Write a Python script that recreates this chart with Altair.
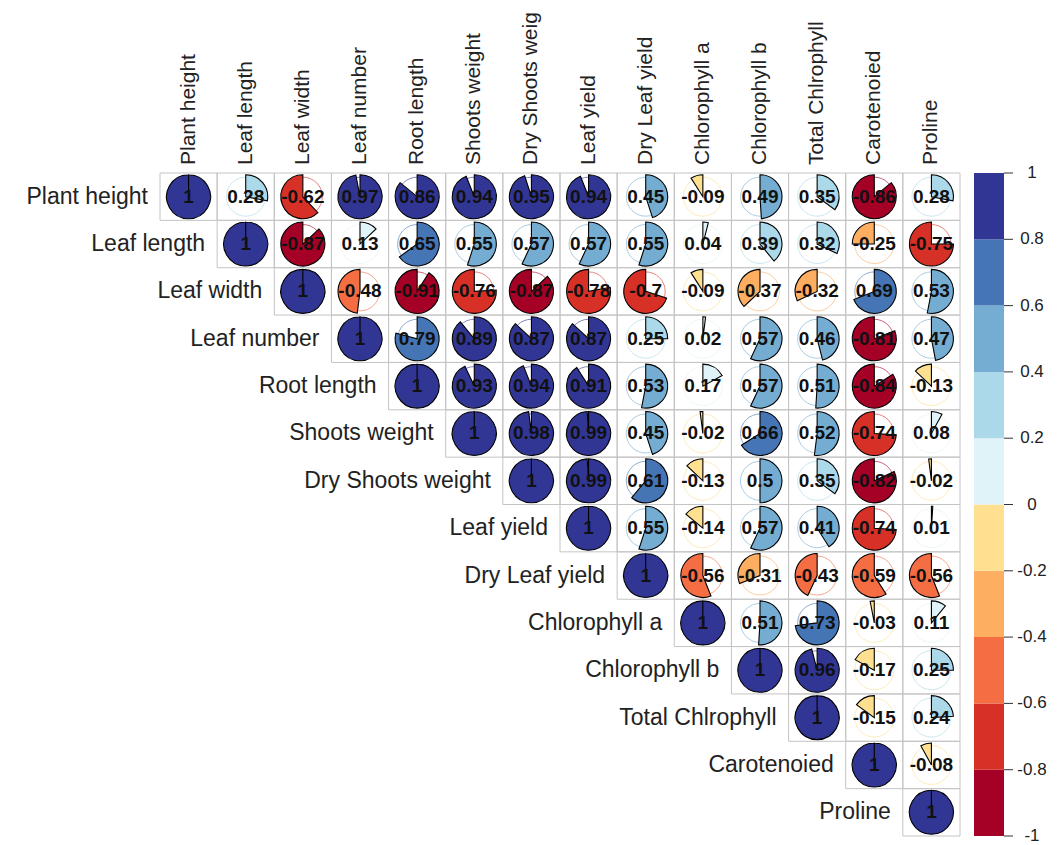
import altair as alt
import pandas as pd

names = ["Plant height", "Leaf length", "Leaf width", "Leaf number", "Root length",
         "Shoots weight", "Dry Shoots weight", "Leaf yield", "Dry Leaf yield",
         "Chlorophyll a", "Chlorophyll b", "Total Chlrophyll", "Carotenoied", "Proline"]
col_labels = ["Plant height", "Leaf length", "Leaf width", "Leaf number", "Root length",
              "Shoots weight", "Dry Shoots weig", "Leaf yield", "Dry Leaf yield",
              "Chlorophyll a", "Chlorophyll b", "Total Chlrophyll", "Carotenoied", "Proline"]

# upper triangle of the correlation matrix, row by row (starting at the diagonal)
row_plant_height = [1, 0.28, -0.62, 0.97, 0.86, 0.94, 0.95, 0.94, 0.45, -0.09, 0.49, 0.35, -0.86, 0.28]
row_leaf_length = [1, -0.87, 0.13, 0.65, 0.55, 0.57, 0.57, 0.55, 0.04, 0.39, 0.32, -0.25, -0.75]
row_leaf_width = [1, -0.48, -0.91, -0.76, -0.87, -0.78, -0.7, -0.09, -0.37, -0.32, 0.69, 0.53]
row_leaf_number = [1, 0.79, 0.89, 0.87, 0.87, 0.25, 0.02, 0.57, 0.46, -0.81, 0.47]
row_root_length = [1, 0.93, 0.94, 0.91, 0.53, 0.17, 0.57, 0.51, -0.84, -0.13]
row_shoots_weight = [1, 0.98, 0.99, 0.45, -0.02, 0.66, 0.52, -0.74, 0.08]
row_dry_shoots = [1, 0.99, 0.61, -0.13, 0.5, 0.35, -0.82, -0.02]
row_leaf_yield = [1, 0.55, -0.14, 0.57, 0.41, -0.74, 0.01]
row_dry_leaf_yield = [1, -0.56, -0.31, -0.43, -0.59, -0.56]
row_chl_a = [1, 0.51, 0.73, -0.03, 0.11]
row_chl_b = [1, 0.96, -0.17, 0.25]
row_total_chl = [1, -0.15, 0.24]
row_carotenoid = [1, -0.08]
row_proline = [1]

upper = [row_plant_height, row_leaf_length, row_leaf_width, row_leaf_number, row_root_length,
         row_shoots_weight, row_dry_shoots, row_leaf_yield, row_dry_leaf_yield, row_chl_a,
         row_chl_b, row_total_chl, row_carotenoid, row_proline]

palette = ["#a50026", "#d73027", "#f46d43", "#fdae61", "#fee090",
           "#e0f3f8", "#abd9e9", "#74add1", "#4575b4", "#313695"]
thresholds = [-0.8, -0.6, -0.4, -0.2, 0, 0.2, 0.4, 0.6, 0.8]

cb_lo = [-1, -0.8, -0.6, -0.4, -0.2, 0, 0.2, 0.4, 0.6, 0.8]
cb_hi = [-0.8, -0.6, -0.4, -0.2, 0, 0.2, 0.4, 0.6, 0.8, 1]
cb_ticks = [-1, -0.8, -0.6, -0.4, -0.2, 0, 0.2, 0.4, 0.6, 0.8, 1]
cb_tick_labels = ["-1", "-0.8", "-0.6", "-0.4", "-0.2", "0", "0.2", "0.4", "0.6", "0.8", "1"]

rows = []
for i, vals in enumerate(upper):
    for k, v in enumerate(vals):
        rows.append({"row": i, "col": i + k, "r": v, "label": f"{v:g}"})
cells = pd.DataFrame(rows)
rowlab_df = pd.DataFrame({"name": names, "idx": list(range(len(names)))})
collab_df = pd.DataFrame({"name": col_labels, "idx": list(range(len(col_labels)))})
cb_df = pd.DataFrame({"lo": cb_lo, "hi": cb_hi})
tick_df = pd.DataFrame({"v": cb_ticks, "lab": cb_tick_labels})

FONT = "Liberation Sans"
xs = alt.Scale(domain=[0, 14], range=[152, 952])
ys = alt.Scale(domain=[0, 14], range=[165, 828])
cy = alt.Scale(domain=[-1, 1], range=[828, 165])
cscale = alt.Scale(type="threshold", domain=thresholds, range=palette)

base = alt.Chart(cells).transform_calculate(
    x0="datum.col", x1="datum.col + 1", xc="datum.col + 0.5",
    y0="datum.row", y1="datum.row + 1", yc="datum.row + 0.5",
    t1="datum.r >= 0 ? 0 : 2*PI*(1 + datum.r)",
    t2="datum.r >= 0 ? 2*PI*min(datum.r, 0.9995) : 2*PI",
)

grid = base.mark_rect(filled=False, stroke="#c4c4c4", strokeWidth=1).encode(
    x=alt.X("x0:Q", scale=xs, axis=None),
    x2="x1:Q",
    y=alt.Y("y0:Q", scale=ys, axis=None),
    y2="y1:Q",
)

outline = base.mark_point(shape="circle", size=1520, filled=False, strokeWidth=1, opacity=0.6).encode(
    x=alt.X("xc:Q", scale=xs, axis=None),
    y=alt.Y("yc:Q", scale=ys, axis=None),
    color=alt.Color("r:Q", scale=cscale, legend=None),
)

wedge = base.mark_arc(radius=22, stroke="black", strokeWidth=1.1).encode(
    x=alt.X("xc:Q", scale=xs, axis=None),
    y=alt.Y("yc:Q", scale=ys, axis=None),
    theta=alt.Theta("t1:Q", scale=None, stack=False),
    theta2="t2:Q",
    color=alt.Color("r:Q", scale=cscale, legend=None),
)

nums = base.mark_text(font=FONT, fontSize=19, fontWeight="bold", color="#111111").encode(
    x=alt.X("xc:Q", scale=xs, axis=None),
    y=alt.Y("yc:Q", scale=ys, axis=None),
    text="label:N",
)

rowlab = alt.Chart(rowlab_df).transform_calculate(
    yc="datum.idx + 0.5"
).mark_text(font=FONT, fontSize=23, align="right", baseline="middle", dx=-12, color="#222222").encode(
    x=alt.X("idx:Q", scale=xs, axis=None),
    y=alt.Y("yc:Q", scale=ys, axis=None),
    text="name:N",
)

collab = alt.Chart(collab_df).transform_calculate(
    xc="datum.idx + 0.5"
).mark_text(font=FONT, fontSize=21, align="left", baseline="middle", angle=270, color="#222222").encode(
    x=alt.X("xc:Q", scale=xs, axis=None),
    y=alt.value(157),
    text="name:N",
)

cbar = alt.Chart(cb_df).transform_calculate(
    mid="(datum.lo + datum.hi) / 2"
).mark_rect().encode(
    x=alt.value(966),
    x2=alt.value(996),
    y=alt.Y("lo:Q", scale=cy, axis=None),
    y2="hi:Q",
    color=alt.Color("mid:Q", scale=cscale, legend=None),
)

cticks = alt.Chart(tick_df).mark_rule(color="#333333", strokeWidth=1).encode(
    x=alt.value(996),
    x2=alt.value(1005),
    y=alt.Y("v:Q", scale=cy, axis=None),
)

clabs = alt.Chart(tick_df).mark_text(font=FONT, fontSize=17, align="center", baseline="middle", color="#222222").encode(
    x=alt.value(1024),
    y=alt.Y("v:Q", scale=cy, axis=None),
    text="lab:N",
)

chart = alt.layer(
    grid, outline, wedge, nums, rowlab, collab, cbar, cticks, clabs
).resolve_scale(y="independent").properties(
    width=1046, height=837,
    autosize=alt.AutoSizeParams(type="none"),
    padding=0,
    background="white",
).configure_view(stroke=None)

chart.save("out.html", embed_options={"renderer": "svg", "actions": False})
